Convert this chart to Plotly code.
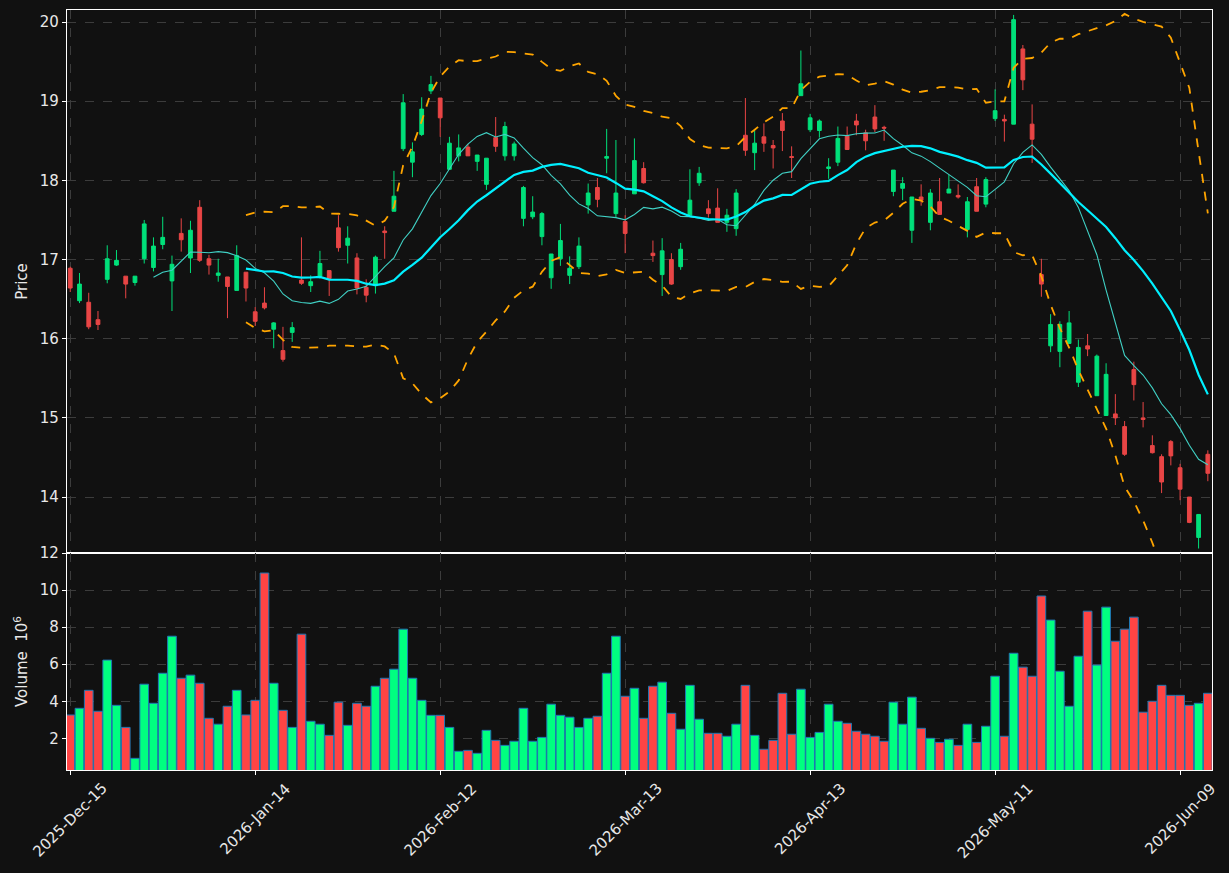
import numpy as np
import pandas as pd
import plotly.graph_objects as go
from plotly.subplots import make_subplots

# ---- data ----
opens = [16.89, 16.48, 16.46, 16.24, 16.75, 16.93, 16.79, 16.71, 17.01, 16.90,
         17.19, 16.73, 17.33, 17.02, 17.66, 17.01, 16.80, 16.78, 16.61, 16.84,
         16.34, 16.45, 16.12, 15.85, 16.08, 16.74, 16.67, 16.79, 16.86, 17.40,
         17.18, 17.02, 16.65, 16.67, 17.36, 17.61, 18.40, 18.23, 18.58, 19.13,
         19.04, 18.14, 18.31, 18.42, 18.24, 17.95, 18.54, 18.31, 18.31, 17.52,
         17.54, 17.29, 16.77, 17.01, 16.80, 16.91, 17.69, 17.91, 18.28, 17.58,
         17.48, 17.83, 18.15, 17.08, 16.81, 17.00, 16.91, 17.56, 17.97, 17.64,
         17.65, 17.47, 17.39, 18.57, 18.35, 18.55, 18.44, 18.75, 18.30, 19.07,
         18.64, 18.63, 18.15, 18.23, 18.56, 18.75, 18.60, 18.80, 18.67, 17.86,
         17.90, 17.37, 17.79, 17.47, 17.73, 17.84, 17.81, 17.38, 17.92, 17.70,
         18.78, 18.77, 18.71, 19.66, 18.71, 16.81, 15.91, 15.84, 15.94, 15.45,
         15.91, 15.28, 15.03, 15.05, 14.89, 15.61, 15.00, 14.65, 14.51, 14.70,
         14.37, 14.00, 13.49, 14.54]
highs = [16.91, 16.83, 16.58, 16.35, 17.18, 17.12, 16.79, 16.79, 17.50, 17.28,
         17.54, 17.05, 17.52, 17.49, 17.75, 17.06, 17.01, 16.78, 17.18, 16.84,
         16.40, 16.65, 16.21, 16.15, 16.21, 17.28, 16.80, 17.11, 16.86, 17.56,
         17.42, 17.08, 16.75, 17.05, 17.42, 18.12, 19.09, 18.48, 19.05, 19.32,
         19.04, 18.55, 18.58, 18.46, 18.32, 18.28, 18.80, 18.74, 18.49, 17.93,
         17.80, 17.60, 17.07, 17.45, 17.04, 17.28, 17.96, 18.03, 18.65, 18.51,
         17.56, 18.53, 18.23, 17.24, 17.27, 17.08, 17.21, 18.14, 18.17, 17.75,
         17.90, 17.64, 17.89, 19.04, 18.63, 18.72, 18.51, 18.85, 18.43, 19.64,
         18.84, 18.77, 18.28, 18.68, 18.68, 18.84, 18.64, 18.95, 18.69, 18.13,
         18.04, 17.79, 17.95, 17.89, 18.03, 18.07, 17.95, 17.79, 18.03, 18.04,
         19.15, 18.83, 20.09, 19.71, 18.96, 17.01, 16.31, 16.22, 16.35, 15.99,
         16.06, 15.80, 15.69, 15.30, 14.96, 15.71, 15.20, 14.78, 14.54, 14.72,
         14.42, 14.00, 13.78, 14.59]
lows = [16.59, 16.45, 16.12, 16.11, 16.70, 16.92, 16.51, 16.67, 16.95, 16.85,
        17.13, 16.35, 17.10, 16.83, 16.97, 16.81, 16.72, 16.26, 16.61, 16.47,
        16.16, 16.37, 15.88, 15.71, 15.96, 16.68, 16.59, 16.76, 16.54, 17.10,
        16.95, 16.56, 16.46, 16.57, 17.01, 17.61, 18.37, 18.04, 18.56, 19.09,
        18.55, 18.14, 18.24, 18.31, 18.12, 17.88, 18.36, 18.25, 18.25, 17.42,
        17.51, 17.18, 16.63, 16.92, 16.69, 16.88, 17.58, 17.66, 18.09, 17.53,
        17.08, 17.83, 17.96, 16.97, 16.54, 16.68, 16.87, 17.56, 17.93, 17.53,
        17.47, 17.35, 17.30, 18.31, 18.13, 18.36, 18.15, 18.37, 18.03, 19.07,
        18.61, 18.54, 18.02, 18.18, 18.39, 18.57, 18.38, 18.61, 18.50, 17.80,
        17.75, 17.21, 17.68, 17.37, 17.57, 17.84, 17.77, 17.28, 17.61, 17.66,
        18.75, 18.49, 18.71, 19.14, 18.22, 16.53, 15.83, 15.64, 15.94, 15.39,
        15.78, 15.28, 15.03, 14.91, 14.52, 15.22, 14.88, 14.55, 14.05, 14.40,
        13.96, 13.67, 13.35, 14.20]
closes = [16.64, 16.69, 16.15, 16.18, 17.01, 16.99, 16.69, 16.79, 17.45, 17.17,
          17.28, 16.94, 17.25, 17.37, 16.99, 16.93, 16.83, 16.66, 17.05, 16.64,
          16.22, 16.39, 16.20, 15.74, 16.14, 16.70, 16.72, 16.95, 16.76, 17.15,
          17.27, 16.64, 16.55, 17.03, 17.34, 17.80, 18.98, 18.36, 18.90, 19.21,
          18.79, 18.47, 18.41, 18.31, 18.32, 18.28, 18.43, 18.68, 18.46, 17.91,
          17.60, 17.58, 17.07, 17.24, 16.89, 17.17, 17.84, 17.76, 18.30, 17.84,
          17.33, 18.25, 17.97, 17.05, 17.11, 16.69, 17.13, 17.75, 18.09, 17.58,
          17.47, 17.56, 17.84, 18.38, 18.47, 18.47, 18.41, 18.63, 18.29, 19.22,
          18.79, 18.75, 18.17, 18.53, 18.39, 18.70, 18.50, 18.65, 18.66, 18.13,
          17.96, 17.79, 17.75, 17.84, 17.57, 17.89, 17.79, 17.73, 17.61, 18.01,
          18.88, 18.75, 20.03, 19.27, 18.52, 16.69, 16.18, 16.18, 16.20, 15.89,
          15.87, 15.78, 15.55, 15.00, 14.54, 15.42, 14.98, 14.56, 14.19, 14.52,
          14.10, 13.68, 13.78, 14.30]
volumes_m = [3.26, 3.62, 4.59, 3.46, 6.22, 3.78, 2.59, 0.92, 4.92, 3.89,
             5.51, 7.51, 5.24, 5.41, 4.97, 3.08, 2.76, 3.73, 4.59, 3.26,
             4.05, 10.92, 4.97, 3.51, 2.59, 7.62, 2.92, 2.76, 2.16, 3.95,
             2.70, 3.89, 3.73, 4.81, 5.24, 5.73, 7.89, 5.24, 4.05, 3.24,
             3.24, 2.59, 1.30, 1.35, 1.19, 2.43, 1.89, 1.62, 1.84, 3.62,
             1.84, 2.05, 3.84, 3.24, 3.14, 2.59, 3.08, 3.19, 5.51, 7.51,
             4.27, 4.70, 3.08, 4.81, 5.03, 3.35, 2.49, 4.86, 3.03, 2.27,
             2.27, 2.11, 2.76, 4.86, 2.16, 1.41, 1.89, 4.43, 2.22, 4.65,
             2.05, 2.32, 3.84, 2.92, 2.81, 2.38, 2.22, 2.11, 1.84, 3.95,
             2.76, 4.22, 2.54, 2.00, 1.78, 1.95, 1.62, 2.76, 1.78, 2.65,
             5.35, 2.11, 6.59, 5.84, 5.35, 9.68, 8.38, 5.62, 3.73, 6.43,
             8.86, 5.95, 9.08, 7.24, 7.89, 8.54, 3.41, 4.00, 4.86, 4.32,
             4.32, 3.78, 3.89, 4.43]
tick_idx = [0, 20, 40, 60, 80, 100, 120]
tick_labels = ["2025-Dec-15", "2026-Jan-14", "2026-Feb-12", "2026-Mar-13",
               "2026-Apr-13", "2026-May-11", "2026-Jun-09"]

# ---- derived indicators ----
x = list(range(len(closes)))
s = pd.Series(closes)
ma10 = s.rolling(10).mean()
ma20 = s.rolling(20).mean()
sd20 = s.rolling(20).std(ddof=0)
bb_up = ma20 + 2 * sd20
bb_lo = ma20 - 2 * sd20

UP_C, DN_C = "#00e07a", "#e84545"
UP_V, DN_V = "#00ff80", "#ff4444"
vol_colors = [UP_V if c >= o else DN_V for o, c in zip(opens, closes)]

BG = "#111111"
GRID = "#3c3c3c"
TXT = "#e8e8e8"
FONT = "DejaVu Sans"
FS = 15

fig = make_subplots(rows=2, cols=1, shared_xaxes=True, vertical_spacing=0,
                    row_heights=[0.7145, 0.2855])

fig.add_trace(go.Candlestick(
    x=x, open=opens, high=highs, low=lows, close=closes,
    increasing=dict(line=dict(color=UP_C, width=1), fillcolor=UP_C),
    decreasing=dict(line=dict(color=DN_C, width=1), fillcolor=DN_C),
    whiskerwidth=0, showlegend=False, name="price"), row=1, col=1)

fig.add_trace(go.Scatter(x=x, y=ma10, mode="lines",
                         line=dict(color="#40d0c4", width=1.1),
                         showlegend=False, name="MA10"), row=1, col=1)
fig.add_trace(go.Scatter(x=x, y=ma20, mode="lines",
                         line=dict(color="#00f0ff", width=2.2),
                         showlegend=False, name="MA20"), row=1, col=1)
for band in (bb_up, bb_lo):
    fig.add_trace(go.Scatter(x=x, y=band, mode="lines",
                             line=dict(color="#ffa500", width=1.8, dash="dash"),
                             showlegend=False), row=1, col=1)

fig.add_trace(go.Bar(x=x, y=volumes_m, width=0.94,
                     marker=dict(color=vol_colors,
                                 line=dict(color="#1f77b4", width=1)),
                     showlegend=False, name="volume"), row=2, col=1)

axis_common = dict(showline=True, linecolor="white", linewidth=1.2, mirror=True,
                   showgrid=True, gridcolor=GRID, griddash="dash", gridwidth=1,
                   zeroline=False, ticks="outside", tickcolor="white",
                   ticklen=4, automargin=False,
                   tickfont=dict(family=FONT, size=FS, color=TXT))

fig.update_xaxes(**axis_common, range=[-0.35, 123.45],
                 tickmode="array", tickvals=tick_idx, ticktext=tick_labels,
                 showticklabels=False)
fig.update_xaxes(rangeslider_visible=False, ticks="", row=1, col=1)

fig.update_yaxes(**axis_common)
fig.update_yaxes(range=[13.293, 20.152], dtick=1, domain=[0.2855, 1.0],
                 title=dict(text="Price", standoff=8,
                            font=dict(family=FONT, size=FS, color=TXT)),
                 row=1, col=1)
fig.update_yaxes(range=[0.29, 12], tickvals=[2, 4, 6, 8, 10, 12],
                 domain=[0.0, 0.2855],
                 title=dict(text="Volume  10<sup>6</sup>", standoff=8,
                            font=dict(family=FONT, size=FS, color=TXT)),
                 row=2, col=1)

# rotated date labels centred under their ticks
for ti, tl in zip(tick_idx, tick_labels):
    fig.add_annotation(x=ti, y=0, xref="x2", yref="paper", text=tl,
                       textangle=-45, showarrow=False, xanchor="center",
                       yanchor="top", yshift=-7,
                       font=dict(family=FONT, size=FS, color=TXT))

fig.update_layout(width=1229, height=873,
                  margin=dict(l=67, r=17, t=10, b=103),
                  paper_bgcolor=BG, plot_bgcolor=BG,
                  font=dict(family=FONT, size=FS, color=TXT),
                  boxgap=0.42, bargap=0.05, showlegend=False)

fig.write_html("out.html")
